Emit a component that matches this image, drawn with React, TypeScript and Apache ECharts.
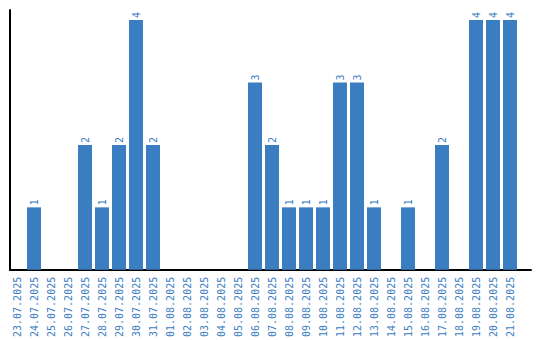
import React, { useEffect, useRef } from "react";
import * as echarts from "echarts";

const categories = [
  "23.07.2025", "24.07.2025", "25.07.2025", "26.07.2025", "27.07.2025",
  "28.07.2025", "29.07.2025", "30.07.2025", "31.07.2025", "01.08.2025",
  "02.08.2025", "03.08.2025", "04.08.2025", "05.08.2025", "06.08.2025",
  "07.08.2025", "08.08.2025", "09.08.2025", "10.08.2025", "11.08.2025",
  "12.08.2025", "13.08.2025", "14.08.2025", "15.08.2025", "16.08.2025",
  "17.08.2025", "18.08.2025", "19.08.2025", "20.08.2025", "21.08.2025",
];

const values = [
  0, 1, 0, 0, 2, 1, 2, 4, 2, 0,
  0, 0, 0, 0, 3, 2, 1, 1, 1, 3,
  3, 1, 0, 1, 0, 2, 0, 4, 4, 4,
];

const yMax = 4.16;
const BLUE = "#3b7dc1";
const FONT = "DejaVu Sans Mono";

export default function App() {
  const ref = useRef<HTMLDivElement>(null);
  useEffect(() => {
    document.body.style.margin = "0";
    if (!ref.current) return;
    const chart = echarts.init(ref.current, null, { renderer: "svg" });
    chart.setOption({
      animation: false,
      grid: [
        { left: 8.5, right: 21.5, top: 10, bottom: 70, containLabel: false },
        { left: 10, right: 9, top: 10, bottom: 70, containLabel: false },
      ],
      xAxis: [
        {
          type: "category",
          gridIndex: 0,
          data: categories,
          axisLine: { show: false },
          axisTick: { show: false },
          axisLabel: {
            rotate: 90,
            interval: 0,
            color: BLUE,
            fontFamily: FONT,
            fontSize: 10,
            margin: 7,
          },
        },
        {
          type: "value",
          gridIndex: 1,
          min: 0,
          max: 1,
          axisLine: { show: true, lineStyle: { color: "#000", width: 2 } },
          axisTick: { show: false },
          axisLabel: { show: false },
          splitLine: { show: false },
        },
      ],
      yAxis: [
        {
          type: "value",
          gridIndex: 0,
          min: 0,
          max: yMax,
          axisLine: { show: false },
          axisTick: { show: false },
          axisLabel: { show: false },
          splitLine: { show: false },
        },
        {
          type: "value",
          gridIndex: 1,
          min: 0,
          max: 1,
          axisLine: { show: true, lineStyle: { color: "#000", width: 2 } },
          axisTick: { show: false },
          axisLabel: { show: false },
          splitLine: { show: false },
        },
      ],
      series: [
        {
          type: "bar",
          xAxisIndex: 0,
          yAxisIndex: 0,
          data: values.map((v) => (v === 0 ? null : v)),
          barWidth: 14,
          itemStyle: { color: BLUE },
          label: {
            show: true,
            position: "top",
            rotate: 90,
            align: "left",
            verticalAlign: "middle",
            distance: 2,
            color: BLUE,
            fontFamily: FONT,
            fontSize: 10,
          },
        },
      ],
    });
    return () => chart.dispose();
  }, []);
  return <div ref={ref} style={{ width: 540, height: 340 }} />;
}
